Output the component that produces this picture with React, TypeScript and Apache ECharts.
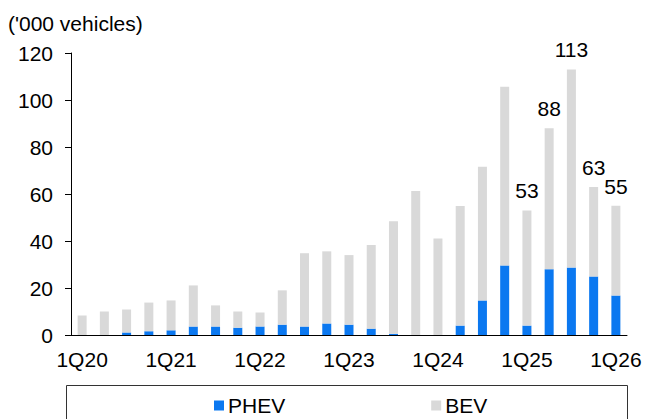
import React, { useEffect, useRef } from "react";
import * as echarts from "echarts";

// Quarterly sales, '000 vehicles
const quarters = [
  "1Q20", "2Q20", "3Q20", "4Q20",
  "1Q21", "2Q21", "3Q21", "4Q21",
  "1Q22", "2Q22", "3Q22", "4Q22",
  "1Q23", "2Q23", "3Q23", "4Q23",
  "1Q24", "2Q24", "3Q24", "4Q24",
  "1Q25", "2Q25", "3Q25", "4Q25",
  "1Q26",
];

const phev = [
  0, 0, 1.1, 1.6,
  2.0, 3.6, 3.6, 3.1,
  3.6, 4.4, 3.6, 4.9,
  4.4, 2.7, 0.5, 0,
  0, 4.0, 14.7, 29.6,
  4.0, 28.0, 28.7, 24.9,
  16.8,
];

const bev = [
  8.3, 10.0, 9.8, 12.2,
  12.7, 17.5, 9.0, 6.9,
  6.0, 14.6, 31.2, 30.7,
  29.6, 35.6, 47.9, 61.3,
  41.1, 50.9, 56.9, 76.0,
  49.0, 60.0, 84.3, 38.1,
  38.2,
];

// Quarters whose total is printed above the bar
const labelledQuarters = ["1Q25", "2Q25", "3Q25", "4Q25", "1Q26"];

const yTicks = { min: 0, max: 120, interval: 20 };

const FONT = "'Liberation Sans', Arial, sans-serif";
const BLUE = "#0B78F0";
const GREY = "#D9D9D9";

export default function App() {
  const ref = useRef<HTMLDivElement>(null);

  useEffect(() => {
    if (!ref.current) return;
    const chart = echarts.init(ref.current, null, { renderer: "svg" });

    chart.setOption({
      animation: false,
      backgroundColor: "#ffffff",
      textStyle: { fontFamily: FONT, color: "#000" },
      title: {
        text: "('000 vehicles)",
        left: 3,
        top: 8,
        textStyle: { fontFamily: FONT, fontSize: 21, fontWeight: "normal", color: "#000" },
      },
      grid: { left: 71, right: 19, top: 53, bottom: 84, containLabel: false },
      legend: {
        data: ["PHEV", "BEV"],
        left: 209,
        top: 390,
        icon: "rect",
        itemWidth: 10,
        itemHeight: 10,
        itemGap: 146,
        textStyle: { fontFamily: FONT, fontSize: 21, color: "#000", padding: [0, 0, 0, -1] },
      },
      graphic: [
        {
          type: "rect",
          shape: { x: 66.5, y: 385.5, width: 561, height: 60 },
          style: { fill: "none", stroke: "#333", lineWidth: 1 },
          z: 0,
        },
      ],
      xAxis: {
        type: "category",
        data: quarters,
        boundaryGap: true,
        axisLine: { lineStyle: { color: "#000", width: 1 } },
        axisTick: { interval: 3, length: 6, alignWithLabel: false, lineStyle: { color: "#000" } },
        axisLabel: { interval: 3, fontFamily: FONT, fontSize: 21, color: "#000", margin: 14 },
        splitLine: { show: false },
      },
      yAxis: {
        type: "value",
        min: yTicks.min,
        max: yTicks.max,
        interval: yTicks.interval,
        axisLine: { show: true, lineStyle: { color: "#000", width: 1 } },
        axisTick: { show: true, length: 6, lineStyle: { color: "#000" } },
        axisLabel: { fontFamily: FONT, fontSize: 21, color: "#000", margin: 18 },
        splitLine: { show: false },
      },
      series: [
        {
          name: "PHEV",
          type: "bar",
          stack: "total",
          barWidth: 9,
          data: phev,
          itemStyle: { color: BLUE },
        },
        {
          name: "BEV",
          type: "bar",
          stack: "total",
          barWidth: 9,
          data: bev,
          itemStyle: { color: GREY },
          label: {
            show: true,
            position: "top",
            distance: 9,
            fontFamily: FONT,
            fontSize: 21,
            color: "#000",
            formatter: (p: any) =>
              labelledQuarters.includes(quarters[p.dataIndex])
                ? String(Math.round(phev[p.dataIndex] + bev[p.dataIndex]))
                : "",
          },
        },
      ],
    });

    return () => chart.dispose();
  }, []);

  return <div ref={ref} style={{ width: 646, height: 419, position: "absolute", left: 0, top: 0 }} />;
}
